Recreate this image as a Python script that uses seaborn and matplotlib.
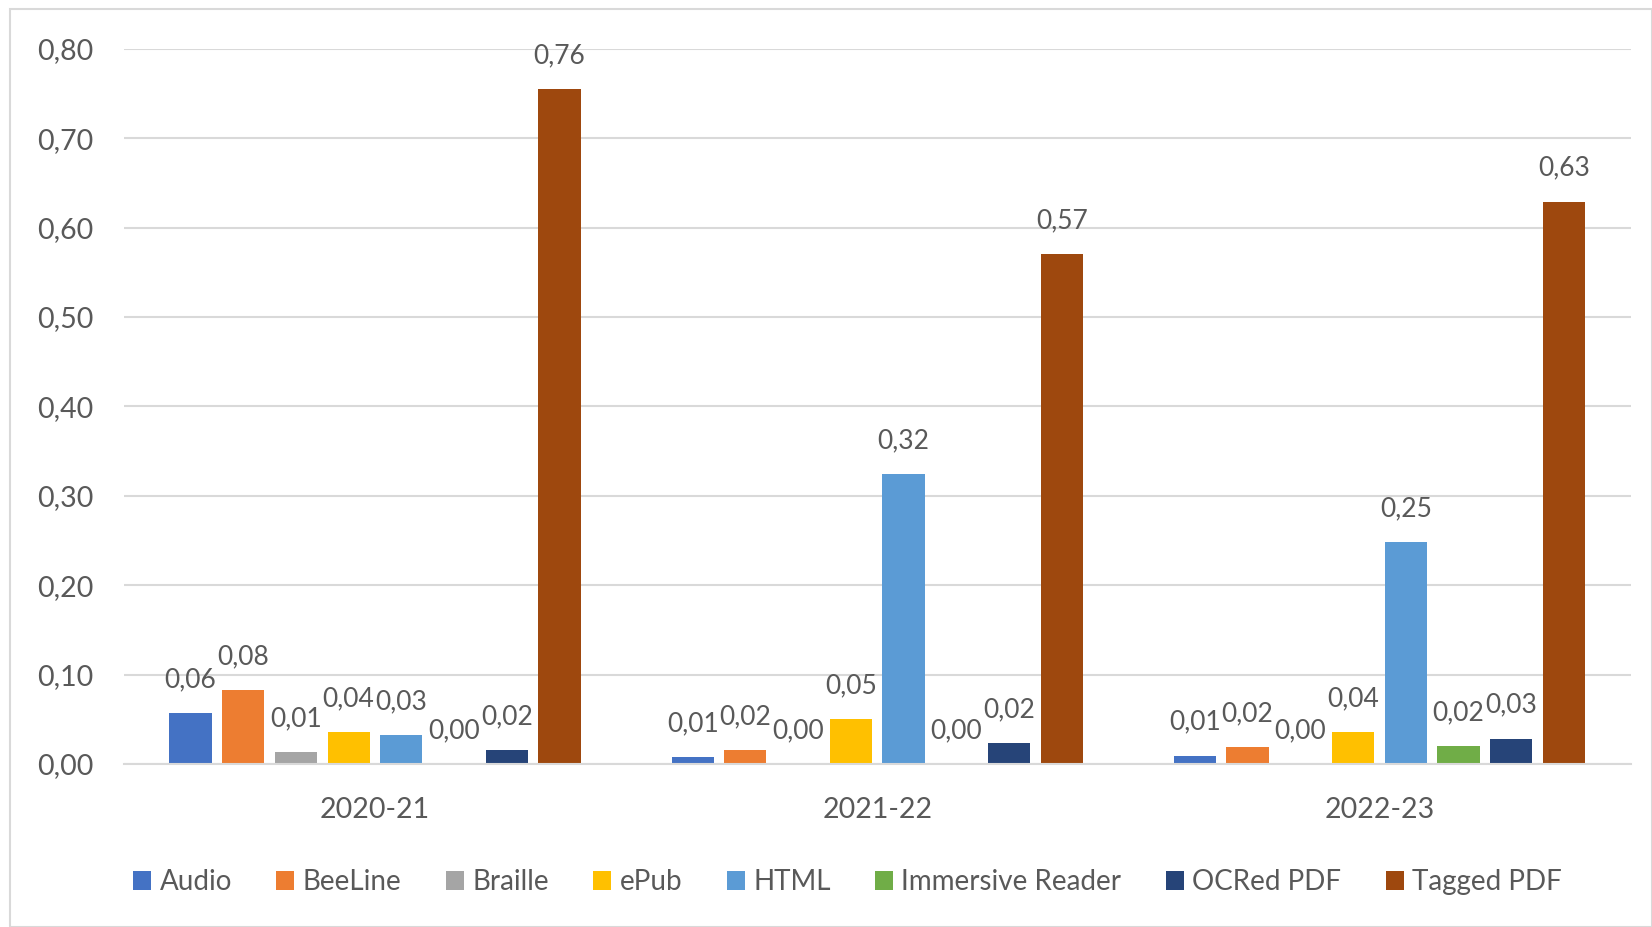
import matplotlib

matplotlib.use("Agg")
import matplotlib.pyplot as plt
import pandas as pd
import seaborn as sns
from matplotlib.patches import Patch, Rectangle
from matplotlib.ticker import FuncFormatter

years = ["2020-21", "2021-22", "2022-23"]
formats = ["Audio", "BeeLine", "Braille", "ePub", "HTML", "Immersive Reader", "OCRed PDF", "Tagged PDF"]

audio = [0.057, 0.008, 0.0095]
beeline = [0.083, 0.0155, 0.019]
braille = [0.013, 0.0, 0.0]
epub = [0.036, 0.050, 0.036]
html = [0.032, 0.324, 0.248]
immersive = [0.0, 0.0, 0.0205]
ocred = [0.016, 0.0235, 0.0285]
tagged = [0.755, 0.570, 0.629]

colors = ["#4472C4", "#ED7D31", "#A5A5A5", "#FFC000", "#5B9BD5", "#70AD47", "#264478", "#9E480E"]
text_col = "#595959"
grid_col = "#D9D9D9"

series = [audio, beeline, braille, epub, html, immersive, ocred, tagged]
rows = []
for name, vals in zip(formats, series):
    for yr, v in zip(years, vals):
        rows.append((yr, name, v))
df = pd.DataFrame(rows, columns=["year", "format", "share"])

sns.set_theme(style="white")
plt.rcParams["font.family"] = ["Lato", "DejaVu Sans"]

fig = plt.figure(figsize=(16.52, 9.27), dpi=100)
ax = fig.add_axes([0.075, 0.1758, 0.912, 0.7717])

sns.barplot(
    data=df, x="year", y="share", hue="format", hue_order=formats, order=years,
    palette=colors, errorbar=None, width=0.84, gap=0.2, legend=False, ax=ax,
    saturation=1, linewidth=0,
)

comma = lambda v: f"{v:.2f}".replace(".", ",")
for cont in ax.containers:
    ax.bar_label(cont, fmt=comma, padding=15, fontsize=19, color=text_col)

ax.set_ylim(0, 0.8)
ax.set_yticks([i / 10 for i in range(9)])
ax.yaxis.set_major_formatter(FuncFormatter(lambda v, _: comma(v)))
ax.grid(axis="y", color=grid_col, linewidth=1.5)
ax.set_axisbelow(True)
for side in ["left", "right", "top"]:
    ax.spines[side].set_visible(False)
ax.spines["bottom"].set_color(grid_col)
ax.spines["bottom"].set_linewidth(1.5)
ax.tick_params(axis="y", length=0, pad=22, labelsize=20.5, labelcolor=text_col)
ax.tick_params(axis="x", length=0, pad=24, labelsize=20.5, labelcolor=text_col)
ax.set_xlabel("")
ax.set_ylabel("")

handles = [Patch(facecolor=c, edgecolor="none", label=f) for c, f in zip(colors, formats)]
fig.legend(
    handles=handles, loc="center", bbox_to_anchor=(0.513, 0.0485), ncol=8, frameon=False,
    fontsize=20, labelcolor=text_col, handlelength=0.65, handleheight=0.65,
    handletextpad=0.3, columnspacing=1.6,
)

fig.patches.append(Rectangle((10 / 1652, 0), 1 - 10 / 1652, 1 - 9 / 927, transform=fig.transFigure,
                             fill=False, edgecolor=grid_col, linewidth=1.5))

fig.savefig("out.png", dpi=100)
